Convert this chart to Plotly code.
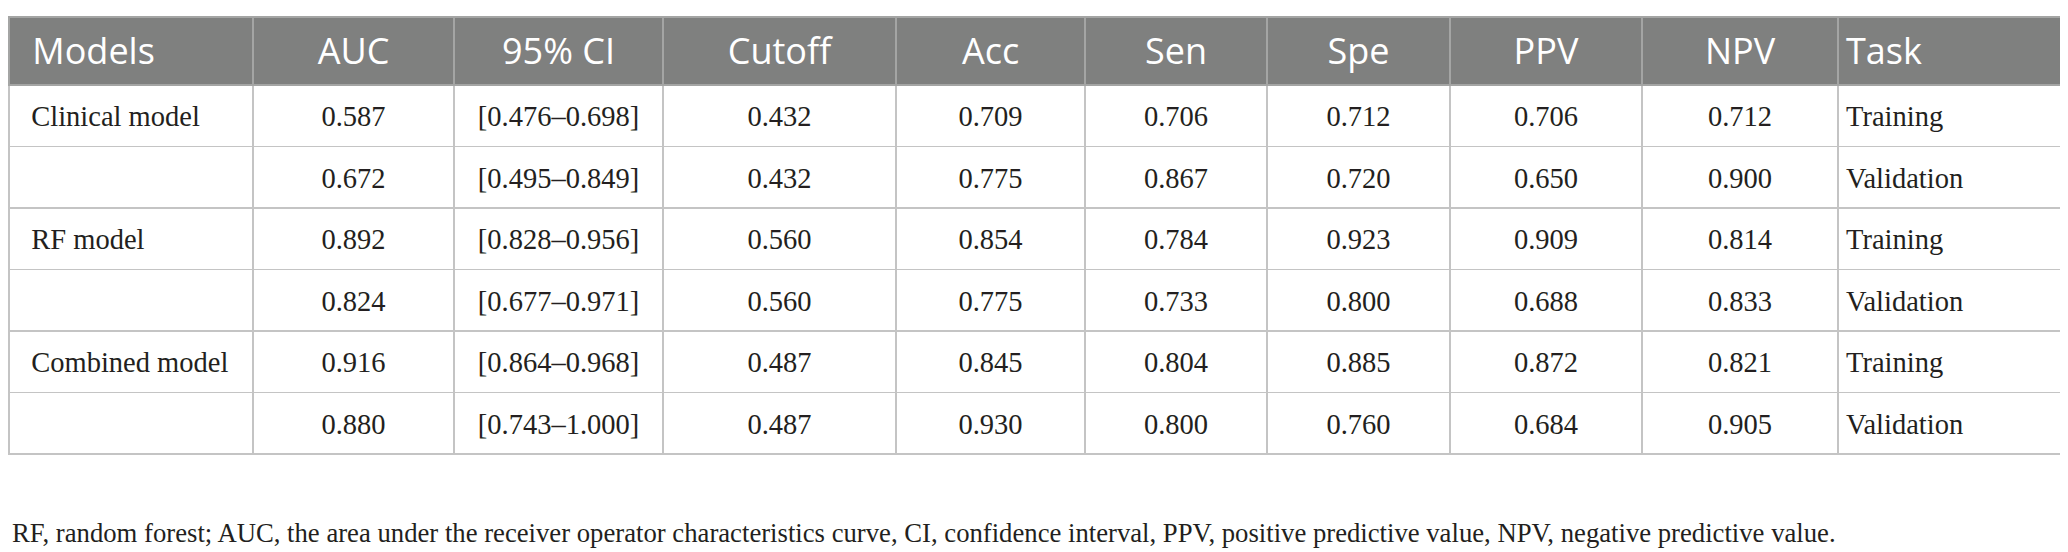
import plotly.graph_objects as go

# table data
headers = ["Models", "AUC", "95% CI", "Cutoff", "Acc", "Sen", "Spe", "PPV", "NPV", "Task"]
models = ["Clinical model", "", "RF model", "", "Combined model", ""]
auc = [0.587, 0.672, 0.892, 0.824, 0.916, 0.880]
ci = ["[0.476\u20130.698]", "[0.495\u20130.849]", "[0.828\u20130.956]",
      "[0.677\u20130.971]", "[0.864\u20130.968]", "[0.743\u20131.000]"]
cutoff = [0.432, 0.432, 0.560, 0.560, 0.487, 0.487]
acc = [0.709, 0.775, 0.854, 0.775, 0.845, 0.930]
sen = [0.706, 0.867, 0.784, 0.733, 0.804, 0.800]
spe = [0.712, 0.720, 0.923, 0.800, 0.885, 0.760]
ppv = [0.706, 0.650, 0.909, 0.688, 0.872, 0.684]
npv = [0.712, 0.900, 0.814, 0.833, 0.821, 0.905]
task = ["Training", "Validation", "Training", "Validation", "Training", "Validation"]

footnote = ("RF, random forest; AUC, the area under the receiver operator characteristics curve, "
            "CI, confidence interval, PPV, positive predictive value, NPV, negative predictive value.")

col_widths = [244, 201, 209, 233, 189, 182, 183, 192, 196, 237]

W, H = 2068, 552
TOP = 9          # px from top to table top border
HEAD_H = 68
ROW_H = 61.5
SHIFT = 12       # plotly tables top-align text; push text layers down to centre it
SERIF = "Liberation Serif, Times New Roman, serif"
SANS = "Open Sans, Noto Sans, sans-serif"
TXT = "#231f20"
CLEAR = "rgba(0,0,0,0)"

# the first column has a wider left inset than plotly's cell padding
pad = "\u00a0\u00a0"
models_txt = [pad + m if m else m for m in models]
headers_txt = ["\u00a0\u2009" + headers[0]] + headers[1:]

columns = [models_txt, auc, ci, cutoff, acc, sen, spe, ppv, npv, task]
fmt = ["", ".3f", "", ".3f", ".3f", ".3f", ".3f", ".3f", ".3f", ""]
align = ["left"] + ["center"] * 8 + ["left"]
n_rows = len(models)
blank_cols = [[""] * n_rows for _ in headers]

grid_dom = dict(x=[1 / W, 2067 / W], y=[0, 1 - TOP / H])
text_dom = dict(x=[1 / W, 2067 / W], y=[0, 1 - (TOP + SHIFT) / H])

fig = go.Figure()

# grid layer: fills and rules only
fig.add_trace(go.Table(
    domain=grid_dom,
    columnwidth=col_widths,
    header=dict(values=[""] * len(headers), fill_color="#7f807f",
                line=dict(color="#a4a5a4", width=1.3), height=HEAD_H),
    cells=dict(values=blank_cols, fill_color="white",
               line=dict(color="#c4c4c4", width=1.3), height=ROW_H),
))

# header text layer
fig.add_trace(go.Table(
    domain=text_dom,
    columnwidth=col_widths,
    header=dict(values=headers_txt, align=align, fill_color=CLEAR,
                line=dict(color=CLEAR, width=0),
                font=dict(family=SANS, size=36, color="white"), height=HEAD_H),
    cells=dict(values=blank_cols, fill_color=CLEAR,
               line=dict(color=CLEAR, width=0), height=ROW_H),
))

# body text layer
fig.add_trace(go.Table(
    domain=text_dom,
    columnwidth=col_widths,
    header=dict(values=[""] * len(headers), fill_color=CLEAR,
                line=dict(color=CLEAR, width=0), height=HEAD_H),
    cells=dict(values=columns, format=fmt, align=align, fill_color=CLEAR,
               line=dict(color=CLEAR, width=0),
               font=dict(family=SERIF, size=28.5, color=TXT), height=ROW_H),
))

fig.add_annotation(
    text=footnote, xref="paper", yref="paper",
    x=2 / W, y=1 - 525 / H, xanchor="left", yanchor="middle",
    showarrow=False, font=dict(family=SERIF, size=26.7, color=TXT),
)

fig.update_layout(
    width=W, height=H,
    margin=dict(l=0, r=0, t=0, b=0),
    paper_bgcolor="white", plot_bgcolor="white",
)

fig.write_html("out.html")
